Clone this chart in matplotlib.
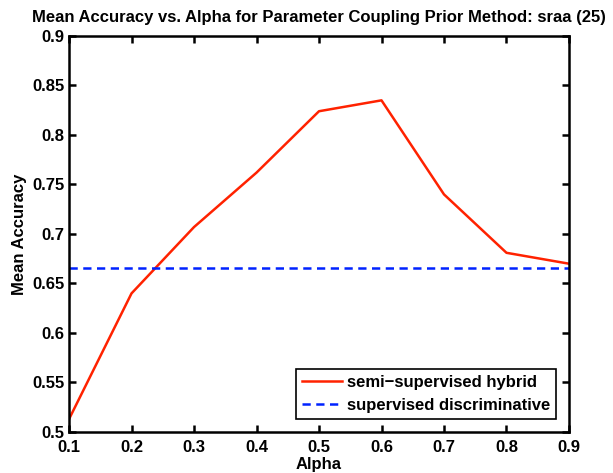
import matplotlib
matplotlib.use("Agg")
import matplotlib.pyplot as plt

plt.rcParams['font.family'] = ['Liberation Sans', 'DejaVu Sans']
plt.rcParams['font.weight'] = 'bold'

alpha = [0.1, 0.2, 0.3, 0.4, 0.5, 0.6, 0.7, 0.8, 0.9]
hybrid_acc = [0.513, 0.640, 0.707, 0.762, 0.824, 0.835, 0.740, 0.681, 0.670]
discrim_acc = 0.666

fig = plt.figure(figsize=(6.13, 4.73), dpi=100)
ax = fig.add_axes([0.1126, 0.0867, 0.8156, 0.8372])

ax.plot(alpha, hybrid_acc, color='#ff2200', lw=1.8, label='semi\u2212supervised hybrid')
ax.plot([alpha[0], alpha[-1]], [discrim_acc, discrim_acc], color='#0022ff', lw=1.8,
        ls=(0, (3.3, 2.2)), label='supervised discriminative')

ax.set_xlim(0.1, 0.9)
ax.set_ylim(0.5, 0.9)
ax.set_xticks(alpha)
ax.set_xticklabels(['0.1', '0.2', '0.3', '0.4', '0.5', '0.6', '0.7', '0.8', '0.9'])
ax.set_yticks([0.5, 0.55, 0.6, 0.65, 0.7, 0.75, 0.8, 0.85, 0.9])
ax.set_yticklabels(['0.5', '0.55', '0.6', '0.65', '0.7', '0.75', '0.8', '0.85', '0.9'])
ax.tick_params(direction='in', length=5, width=1.8, labelsize=12, top=True, right=True)
ax.tick_params(axis='x', pad=6)
ax.tick_params(axis='y', pad=3)
for s in ax.spines.values():
    s.set_linewidth(1.8)

ax.set_xlabel('Alpha', fontsize=12, fontweight='bold', labelpad=1)
ax.set_ylabel('Mean Accuracy', fontsize=12, fontweight='bold', labelpad=4)
ax.set_title('Mean Accuracy vs. Alpha for Parameter Coupling Prior Method: sraa (25)',
             fontsize=12, fontweight='bold', pad=10)

leg = ax.legend(loc='lower right', fontsize=12, fancybox=False, framealpha=1,
                edgecolor='black', borderaxespad=0.8, handlelength=2.4,
                handletextpad=0.3, borderpad=0.35, labelspacing=0.45)
leg.get_frame().set_linewidth(1.2)

fig.savefig('out.png', dpi=100)
